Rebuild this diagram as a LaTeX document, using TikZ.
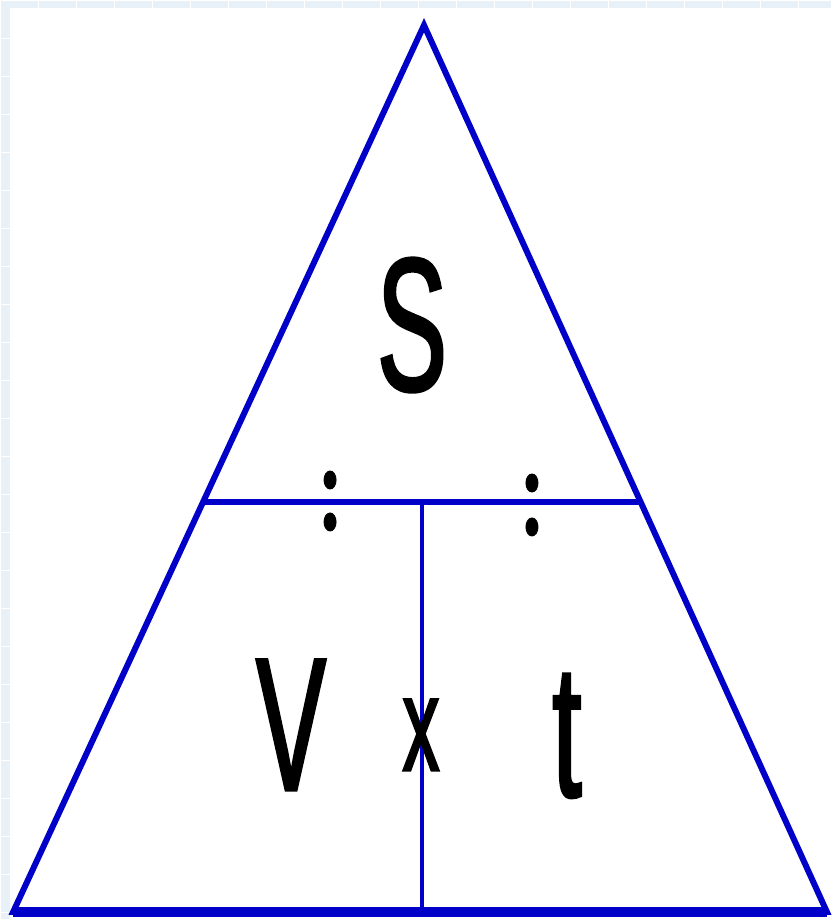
\documentclass[tikz,border=0pt]{standalone}
\usepackage{fontspec}
\newfontfamily\lettres[FakeStretch=0.55,FakeBold=1.5]{Liberation Sans}
\definecolor{bleu}{RGB}{0,0,200}
\definecolor{fond}{RGB}{232,240,248}
\usetikzlibrary{calc}

\begin{document}
\begin{tikzpicture}[x=1pt,y=-1pt,
		lettre/.style={font=\lettres\fontsize{190}{190}\selectfont,inner sep=0pt},
		trait/.style={bleu,line width=6pt}]
	% fond quadrille
	\fill[fond] (0,0) rectangle (831,919);
	\foreach \x in {0,38,...,831}
	\draw[white,thin] (\x,0)--(\x,919);
	\foreach \y in {0,38,...,919}
	\draw[white,thin] (0,\y)--(831,\y);
	\fill[white] (10,8) rectangle (831,919);
	
	% triangle
	\coordinate (sommet) at (424,25);
	\coordinate (gauche) at (13,912);
	\coordinate (droite) at (827,912);
	\draw[trait,line join=miter] (gauche)--(sommet)--(droite)--cycle;
	\draw[bleu,line width=10pt] (gauche)--(droite);
	
	\coordinate (g) at ($(gauche)!0.4622!(sommet)$);
	\coordinate (d) at ($(droite)!0.4622!(sommet)$);
	\coordinate (milieu) at ($(g)!0.5!(d)$);
	\draw[trait] (g)--(d);
	\draw[bleu,line width=4.5pt] (milieu)--(milieu |- gauche);
	
	% lettres
	\node[lettre] (s) at (412,325) {S};
	\node[lettre] (v) at (291,725) {V};
	\node[lettre] (t) at (567,736) {t};
	\node[lettre,font=\lettres\fontsize{135}{135}\selectfont] (fois) at (421,735) {x};
	
	% signes diviser
	\fill (330,480) ellipse (6.5 and 9.5);
	\fill (330,522) ellipse (6.5 and 9.5);
	\fill (532,483) ellipse (6.5 and 9.5);
	\fill (532,527) ellipse (6.5 and 9.5);
\end{tikzpicture}
\end{document}
